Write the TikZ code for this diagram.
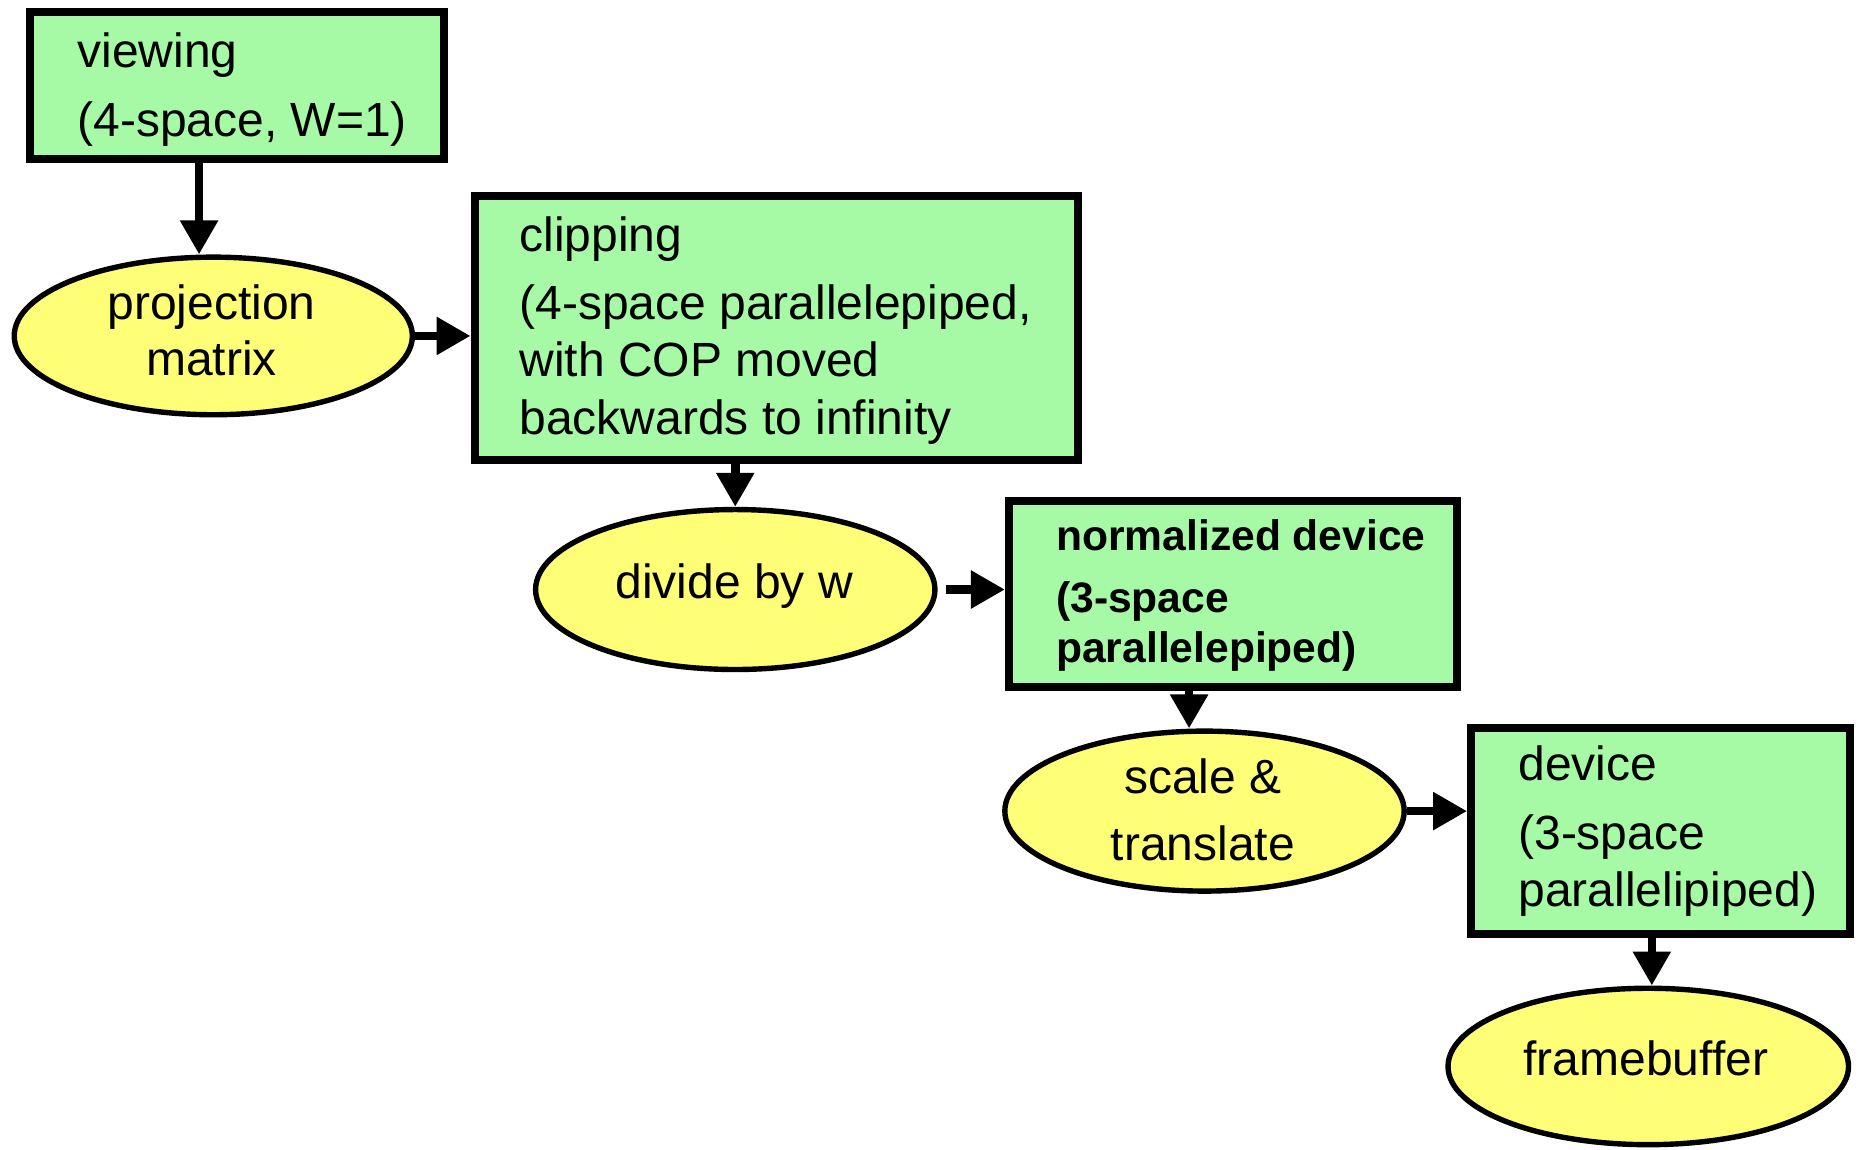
\documentclass[tikz,border=0pt]{standalone}
\usepackage{fontspec}
\setmainfont{Liberation Sans}
\usetikzlibrary{arrows.meta,shapes.geometric}
\newdimen\U \U=0.5925pt
\definecolor{boxgreen}{RGB}{166,250,166}
\definecolor{ellyellow}{RGB}{255,255,119}
\begin{document}
\begin{tikzpicture}[x=0.5925pt,y=-0.5925pt,
  stagebox/.style={draw=black,fill=boxgreen,line width=4pt,rectangle,inner sep=0pt},
  opnode/.style={draw=black,fill=ellyellow,line width=2.7pt,ellipse,inner sep=0pt},
  txt/.style={font=\fontsize{24}{28}\selectfont,inner sep=0pt,anchor=base west},
  ctxt/.style={font=\fontsize{24}{28}\selectfont,inner sep=0pt,anchor=base},
  btxt/.style={font=\fontsize{21.3}{25}\selectfont\bfseries,inner sep=0pt,anchor=base west},
  arr/.style={line width=4.3pt,-{Triangle[length=17pt,width=18pt]}}]
\fill[white] (0,0) rectangle (1568,970);
\useasboundingbox (0,0) rectangle (1568,970);

% boxes
\node[stagebox,minimum width=349\U,minimum height=124\U] (view) at (200,72.5) {};
\node[stagebox,minimum width=509\U,minimum height=223\U] (clip) at (655,277) {};
\node[stagebox,minimum width=378\U,minimum height=157\U] (ndc) at (1040.5,501) {};
\node[stagebox,minimum width=320\U,minimum height=174\U] (dev) at (1401.5,701.5) {};

% ellipses
\node[opnode,minimum width=336\U,minimum height=133\U] (proj) at (180,283.5) {};
\node[opnode,minimum width=337\U,minimum height=135\U] (div) at (620.5,497.5) {};
\node[opnode,minimum width=337\U,minimum height=135\U] (scl) at (1016.5,684.5) {};
\node[opnode,minimum width=338\U,minimum height=132\U] (fb) at (1391,900) {};

% texts
\node[txt] (view1) at (65,57) {viewing};
\node[txt] (view2) at (65,115) {(4-space, W=1)};
\node[ctxt] (proj1) at (178.5,270) {projection};
\node[ctxt] (proj2) at (178.5,317) {matrix};
\node[txt] (clip1) at (438,212) {clipping};
\node[txt] (clip2) at (438,270) {(4-space parallelepiped,};
\node[txt] (clip3) at (438,318) {with COP moved};
\node[txt] (clip4) at (438,367) {backwards to infinity};
\node[ctxt] (div1) at (619.5,505) {divide by w};
\node[btxt] (ndc1) at (891,464.5) {normalized device};
\node[btxt] (ndc2) at (891,517) {(3-space};
\node[btxt] (ndc3) at (891,559) {parallelepiped)};
\node[ctxt] (scl1) at (1015,669.5) {scale \&};
\node[ctxt] (scl2) at (1015,726.5) {translate};
\node[txt] (dev1) at (1281,659) {device};
\node[txt] (dev2) at (1281,716.5) {(3-space};
\node[txt] (dev3) at (1281,765) {parallelipiped)};
\node[ctxt] (fb1) at (1389,908) {framebuffer};

% connectors
\coordinate (a1) at ([xshift=-12\U]proj.north);
\draw[arr] (a1 |- view.south) -- (a1);
\draw[arr] (proj.east) -- (proj.east -| clip.west);
\draw[arr] (div.north |- clip.south) -- (div.north);
\coordinate (a4) at ([xshift=7\U]div.east);
\draw[arr] (a4) -- (a4 -| ndc.west);
\coordinate (a5) at ([xshift=-13\U]scl.north);
\draw[arr] (a5 |- ndc.south) -- (a5);
\draw[arr] (scl.east) -- (scl.east -| dev.west);
\coordinate (a7) at ([xshift=3\U]fb.north);
\draw[arr] (a7 |- dev.south) -- (a7);
\end{tikzpicture}
\end{document}
